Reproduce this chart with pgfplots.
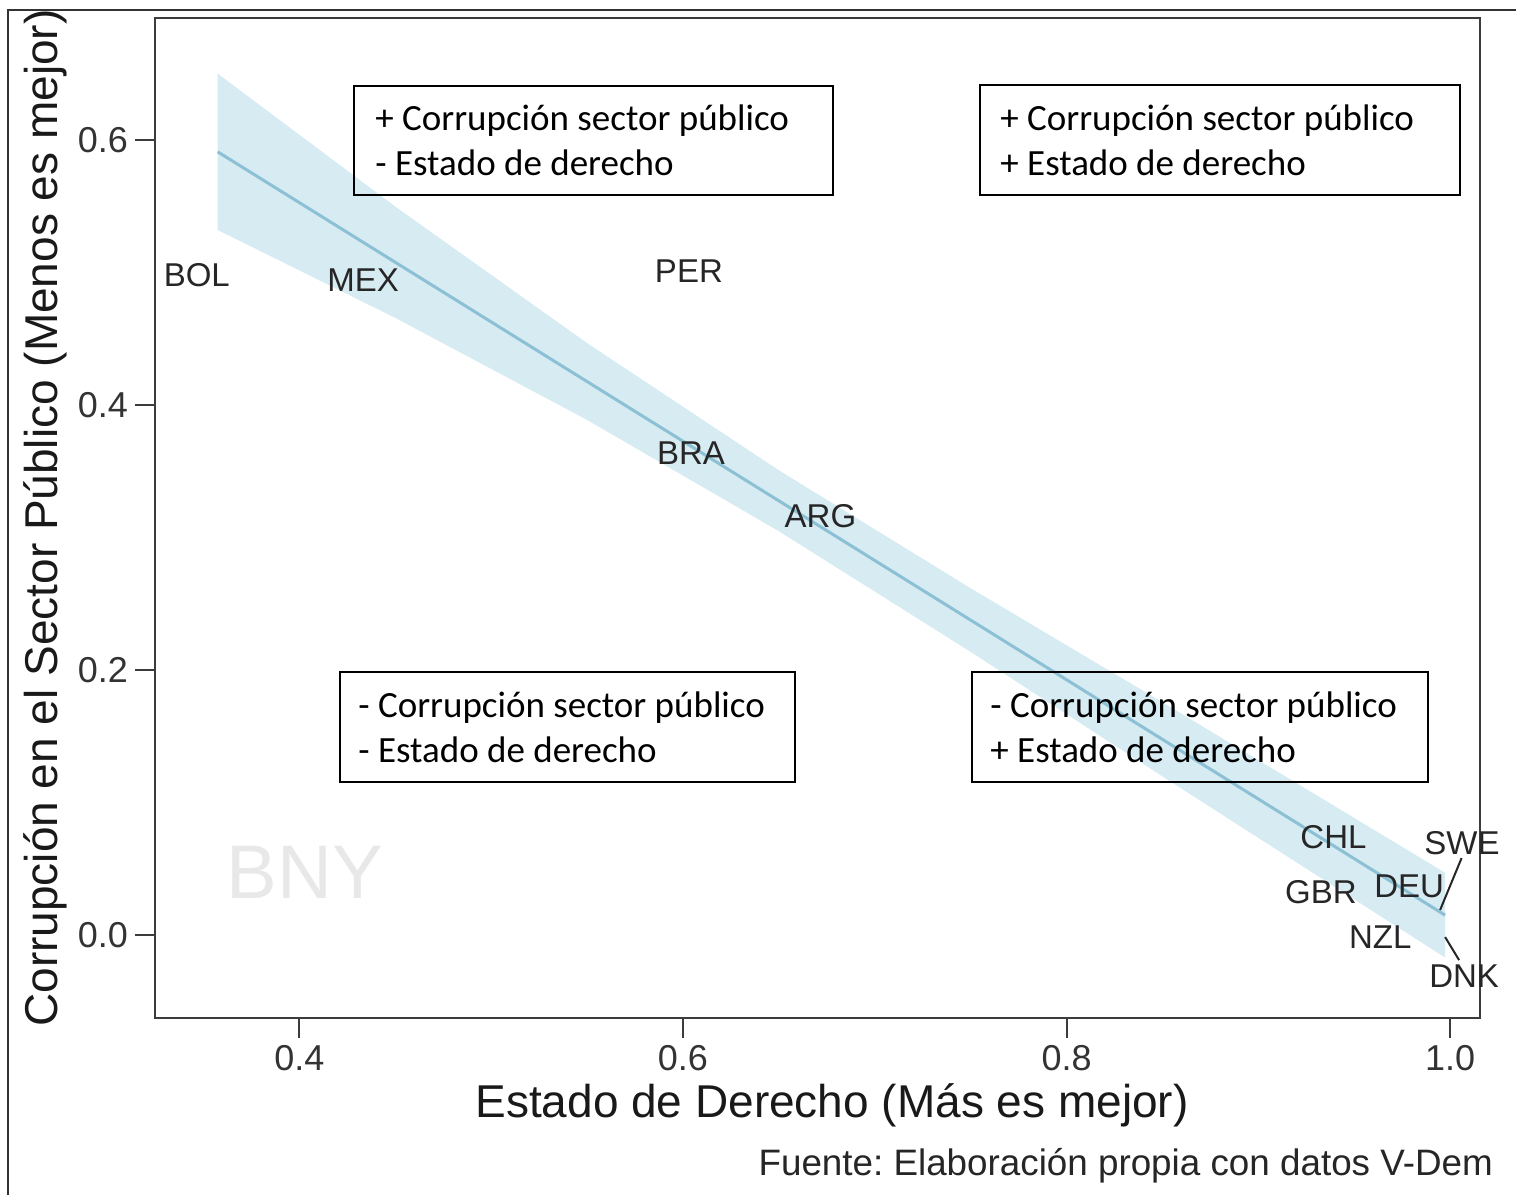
\documentclass[border=0pt]{standalone}
\usepackage{fontspec}
\setmainfont{Liberation Sans}
\newfontfamily\calibri{Carlito}
\usepackage{pgfplots}
\pgfplotsset{compat=1.18}
\definecolor{bandblue}{RGB}{215,235,243}
\definecolor{fitblue}{RGB}{140,192,212}
\definecolor{axisgray}{RGB}{60,60,60}
\frenchspacing

\pgfplotstableread{
x       y       lab
0.3465  0.498   BOL
0.4332  0.4943  MEX
0.6031  0.5011  PER
0.6042  0.3638  BRA
0.6717  0.3162  ARG
0.9392  0.0740  CHL
1.0062  0.0694  SWE
0.9787  0.0370  DEU
0.9326  0.0325  GBR
0.9636  -0.0015 NZL
1.0073  -0.0310 DNK
}\paises

\begin{document}
\begin{tikzpicture}
\useasboundingbox (-77.5pt,-88.5pt) rectangle (680.5pt,509pt);
\begin{axis}[
    width=662.5pt, height=500pt, scale only axis,
    xmin=0.3247, xmax=1.0156,
    ymin=-0.0626, ymax=0.692,
    xtick={0.4,0.6,0.8,1.0}, xticklabels={0.4,0.6,0.8,1.0},
    ytick={0,0.2,0.4,0.6}, yticklabels={0.0,0.2,0.4,0.6},
    xtick pos=lower, ytick pos=left,
    tick align=outside, major tick length=10pt,
    tick style={axisgray, line width=1pt},
    axis line style={axisgray, line width=1pt},
    ticklabel style={font=\fontsize{18}{21}\selectfont, text=black!80},
    /pgf/number format/assume math mode=true,
    xlabel={Estado de Derecho (Más es mejor)},
    ylabel={Corrupción en el Sector Público (Menos es mejor)},
    every axis x label/.style={at={(axis description cs:0.511,-0.087)}, anchor=center,
      font=\fontsize{23}{27}\selectfont, text=black!90},
    every axis y label/.style={at={(axis description cs:-0.083,0.5)}, rotate=90, anchor=center,
      font=\fontsize{23}{27}\selectfont, text=black!90},
    clip=false,
]
% banda de confianza
\addplot[fill=bandblue, draw=none] coordinates {
  (0.3574,0.650)(0.45,0.5497)(0.55,0.4467)(0.65,0.3507)(0.75,0.2617)(0.85,0.1757)(0.9974,0.047)
  (0.9974,-0.017)(0.85,0.1197)(0.75,0.2137)(0.65,0.3047)(0.55,0.3887)(0.45,0.4657)(0.3574,0.532)
} --cycle;
% recta ajustada
\addplot[fitblue, line width=1.5pt] coordinates {(0.3574,0.591)(0.9974,0.015)};
% etiquetas de paises
\addplot[only marks, mark=none, nodes near coords, point meta=explicit symbolic,
  nodes near coords align={center},
  every node near coord/.append style={anchor=center, inner sep=0pt,
    font=\fontsize{16.5}{19}\selectfont, text=black!85}]
  table[x=x, y=y, meta=lab] {\paises};
% lineas de SWE y DNK
\addplot[black!85, line width=1pt] coordinates {(1.006,0.0581)(0.9948,0.0189)};
\addplot[black!85, line width=1pt] coordinates {(0.9974,-0.0015)(1.0047,-0.0189)};
\end{axis}

% marca de agua
\node[text=black!9, font=\fontsize{38}{44}\selectfont] at (75pt,73pt) {BNY};

% cuadros de cuadrantes
\begin{scope}[every node/.style={font=\calibri\fontsize{18.5}{22.5}\selectfont, align=left, anchor=west, inner sep=0pt}]
\draw[line width=0.8pt] (99.5pt,411.5pt) rectangle (339pt,466pt);
\node at (110pt,438.75pt) {+ Corrupción sector público\\- Estado de derecho};
\draw[line width=0.8pt] (412.5pt,411.5pt) rectangle (652.5pt,466.5pt);
\node at (422.5pt,439pt) {+ Corrupción sector público\\+ Estado de derecho};
\draw[line width=0.8pt] (92.5pt,118pt) rectangle (320pt,173pt);
\node at (101.5pt,145.5pt) {- Corrupción sector público\\- Estado de derecho};
\draw[line width=0.8pt] (408.5pt,118pt) rectangle (636.5pt,173pt);
\node at (417.5pt,145.5pt) {- Corrupción sector público\\+ Estado de derecho};
\end{scope}

% fuente
\node[anchor=base east, font=\fontsize{18.4}{22}\selectfont, text=black!85] at (672.5pt,-78.5pt)
  {Fuente: Elaboración propia con datos V-Dem};

% marco exterior
\draw[black!80, line width=1pt] (-73.5pt,-88.5pt) -- (-73.5pt,504pt) -- (680.5pt,504pt);
\end{tikzpicture}
\end{document}
